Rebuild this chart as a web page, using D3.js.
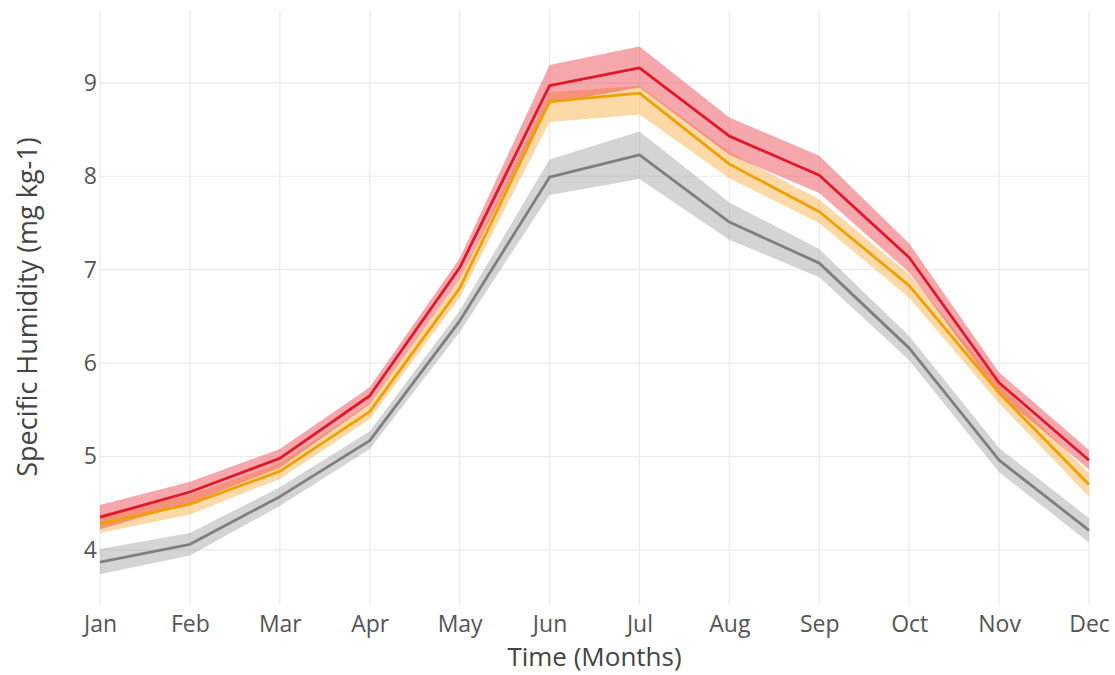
<!DOCTYPE html>
<html>
<head>
<meta charset="utf-8">
<script src="https://cdn.jsdelivr.net/npm/d3@7/dist/d3.min.js"></script>
<style>
  html, body { margin: 0; padding: 0; background: #fff; }
  svg { display: block; font-family: "Open Sans", "DejaVu Sans", sans-serif; }
</style>
</head>
<body>
<svg id="chart" width="1115" height="675"></svg>
<script>
// Monthly specific humidity: three scenarios, each a mean line with an uncertainty band
const months = ["Jan","Feb","Mar","Apr","May","Jun","Jul","Aug","Sep","Oct","Nov","Dec"];
const yTicks = [4, 5, 6, 7, 8, 9];

const redMean  = [4.35, 4.62, 4.98, 5.65, 7.02, 8.97, 9.16, 8.43, 8.01, 7.13, 5.79, 4.96];
const redHigh  = [4.48, 4.73, 5.08, 5.74, 7.12, 9.19, 9.39, 8.63, 8.22, 7.28, 5.90, 5.07];
const redLow   = [4.22, 4.50, 4.88, 5.56, 6.90, 8.78, 8.95, 8.23, 7.82, 6.97, 5.67, 4.86];

const orangeMean = [4.28, 4.49, 4.84, 5.48, 6.80, 8.80, 8.89, 8.13, 7.62, 6.83, 5.68, 4.70];
const orangeHigh = [4.38, 4.59, 4.93, 5.57, 6.90, 8.90, 8.97, 8.26, 7.75, 6.95, 5.78, 4.82];
const orangeLow  = [4.18, 4.38, 4.76, 5.40, 6.70, 8.58, 8.66, 7.98, 7.50, 6.70, 5.57, 4.57];

const grayMean = [3.87, 4.06, 4.57, 5.17, 6.45, 7.99, 8.23, 7.51, 7.07, 6.16, 4.96, 4.21];
const grayHigh = [4.01, 4.18, 4.67, 5.27, 6.56, 8.18, 8.48, 7.72, 7.22, 6.29, 5.09, 4.34];
const grayLow  = [3.74, 3.94, 4.47, 5.08, 6.33, 7.80, 7.97, 7.32, 6.92, 6.03, 4.83, 4.08];

const series = [
  { mean: grayMean,   low: grayLow,   high: grayHigh,   line: "#7f7f7f", band: "rgba(160,160,160,0.45)" },
  { mean: orangeMean, low: orangeLow, high: orangeHigh, line: "#f0a000", band: "rgba(252,180,80,0.5)" },
  { mean: redMean,    low: redLow,    high: redHigh,    line: "#e0182c", band: "rgba(236,60,72,0.45)" }
];

const svg = d3.select("#chart");
const plotLeft = 100, plotRight = 1089, plotTop = 10, plotBottom = 605;

const x = d3.scalePoint().domain(months).range([plotLeft, plotRight]);
const y = d3.scaleLinear().domain([3.41, 9.78]).range([plotBottom, plotTop]);

// grid
const grid = svg.append("g");
grid.selectAll("line.v").data(months).enter().append("line")
  .attr("x1", d => x(d)).attr("x2", d => x(d))
  .attr("y1", plotTop).attr("y2", plotBottom)
  .attr("stroke", "#ebebeb").attr("stroke-width", 1.2);
grid.selectAll("line.h").data(yTicks).enter().append("line")
  .attr("x1", plotLeft).attr("x2", plotRight)
  .attr("y1", d => y(d)).attr("y2", d => y(d))
  .attr("stroke", "#ebebeb").attr("stroke-width", 1.2);

// bands then lines
const area = d3.area()
  .x((d, i) => x(months[i]))
  .y0(d => y(d[0])).y1(d => y(d[1]));
const line = d3.line()
  .x((d, i) => x(months[i]))
  .y(d => y(d));

series.forEach(s => {
  svg.append("path")
    .datum(s.low.map((v, i) => [v, s.high[i]]))
    .attr("d", area)
    .attr("fill", s.band);
});
series.forEach(s => {
  svg.append("path")
    .datum(s.mean)
    .attr("d", line)
    .attr("fill", "none")
    .attr("stroke", s.line)
    .attr("stroke-width", 2.8)
    .attr("stroke-linejoin", "round");
});

// axes
const xAxis = d3.axisBottom(x).tickSize(0).tickPadding(0);
const gx = svg.append("g").attr("transform", `translate(0,${plotBottom + 27})`).call(xAxis);
gx.select(".domain").remove();
gx.selectAll("text").attr("font-size", 23).attr("fill", "#555").attr("dy", "0")
  .attr("font-family", "'Open Sans', sans-serif");

const yAxis = d3.axisLeft(y).tickValues(yTicks).tickSize(0).tickPadding(0).tickFormat(d3.format("d"));
const gy = svg.append("g").attr("transform", `translate(${plotLeft - 3},0)`).call(yAxis);
gy.select(".domain").remove();
gy.selectAll("text").attr("font-size", 23).attr("fill", "#555")
  .attr("font-family", "'Open Sans', sans-serif");

// axis titles
svg.append("text")
  .attr("x", (plotLeft + plotRight) / 2).attr("y", 666)
  .attr("text-anchor", "middle")
  .attr("font-size", 26).attr("fill", "#444")
  .text("Time (Months)");

svg.append("text")
  .attr("transform", `translate(37,307) rotate(-90)`)
  .attr("text-anchor", "middle")
  .attr("font-size", 27).attr("fill", "#444")
  .text("Specific Humidity (mg kg-1)");
</script>
</body>
</html>
